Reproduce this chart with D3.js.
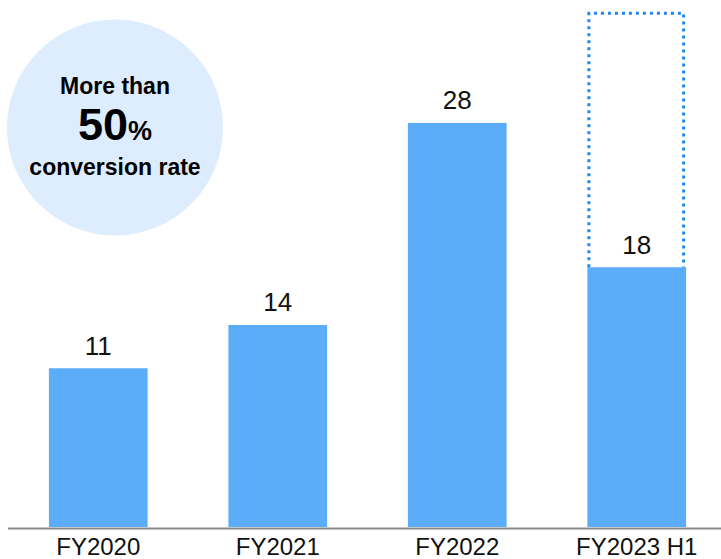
<!DOCTYPE html>
<html>
<head>
<meta charset="utf-8">
<script src="https://cdnjs.cloudflare.com/ajax/libs/d3/7.8.5/d3.min.js"></script>
<style>
    html, body { margin: 0; padding: 0; background: #fff; }
    svg { display: block; font-family: "Liberation Sans", Arial, sans-serif; }
</style>
</head>
<body>
<div id="chart"></div>
<script>
var categories = ["FY2020", "FY2021", "FY2022", "FY2023 H1"];
var values = [11, 14, 28, 18];
// dotted outline drawn over the last bar (full-year outlook)
var outlineCategory = "FY2023 H1";
var outlineValue = 35.6;

var calloutTop = "More than";
var calloutBig = "50";
var calloutUnit = "%";
var calloutBottom = "conversion rate";

var width = 721;
var height = 559;
var baseline = 527;

var barColor = "#5BACF9";
var outlineColor = "#1E88F0";

var svg = d3.select("#chart")
    .append("svg")
    .attr("width", width)
    .attr("height", height);

var x = d3.scaleBand()
    .domain(categories)
    .range([13, 722])
    .paddingInner(0.45)
    .paddingOuter(0.2);

var y = d3.scaleLinear()
    .domain([0, 36])
    .range([baseline, baseline - 36 * 14.43]);

// callout bubble
var bubble = svg.append("g").attr("transform", "translate(115,127.5)");
bubble.append("circle")
    .attr("r", 108)
    .attr("fill", "#DDEDFD");

bubble.append("text")
    .attr("text-anchor", "middle")
    .attr("y", -33.5)
    .attr("font-size", 23)
    .attr("font-weight", "bold")
    .attr("fill", "#000")
    .text(calloutTop);

var big = bubble.append("text")
    .attr("text-anchor", "middle")
    .attr("y", 12.5)
    .attr("font-weight", "bold")
    .attr("fill", "#000");
big.append("tspan").attr("font-size", 45).text(calloutBig);
big.append("tspan").attr("font-size", 27).text(calloutUnit);

bubble.append("text")
    .attr("text-anchor", "middle")
    .attr("y", 47.5)
    .attr("font-size", 23)
    .attr("font-weight", "bold")
    .attr("fill", "#000")
    .text(calloutBottom);

// bars
var rows = categories.map(function (c, i) {
    return { cat: c, value: values[i] };
});

svg.selectAll("rect.bar")
    .data(rows)
    .enter().append("rect")
    .attr("class", "bar")
    .attr("x", function (d) { return x(d.cat); })
    .attr("y", function (d) { return y(d.value); })
    .attr("width", x.bandwidth())
    .attr("height", function (d) { return y(0) - y(d.value); })
    .attr("fill", barColor);

// dotted outline, open at the bottom where it meets the bar
var last = rows.filter(function (d) { return d.cat === outlineCategory; })[0];
var ox0 = x(outlineCategory) + 1.5;
var ox1 = x(outlineCategory) + x.bandwidth() - 2.5;
svg.append("path")
    .attr("d", "M" + ox0 + "," + y(last.value) +
        "V" + y(outlineValue) +
        "H" + ox1 +
        "V" + y(last.value))
    .attr("fill", "none")
    .attr("stroke", outlineColor)
    .attr("stroke-width", 3)
    .attr("stroke-dasharray", "3,4");

// value labels
svg.selectAll("text.value")
    .data(rows)
    .enter().append("text")
    .attr("class", "value")
    .attr("x", function (d) { return x(d.cat) + x.bandwidth() / 2; })
    .attr("y", function (d) { return y(d.value) - 13.5; })
    .attr("text-anchor", "middle")
    .attr("font-size", 26)
    .attr("fill", "#111")
    .text(function (d) { return d.value; });

// axis
var axis = svg.append("g")
    .attr("transform", "translate(0," + 528.5 + ")")
    .call(d3.axisBottom(x).tickSize(0).tickPadding(26));

axis.select(".domain")
    .attr("d", "M8,0H721")
    .attr("stroke", "#8a8a8a")
    .attr("stroke-width", 2);

axis.selectAll(".tick text")
    .attr("font-family", "Liberation Sans, Arial, sans-serif")
    .attr("font-size", 24)
    .attr("fill", "#111")
    .attr("dy", 0);
</script>
</body>
</html>
